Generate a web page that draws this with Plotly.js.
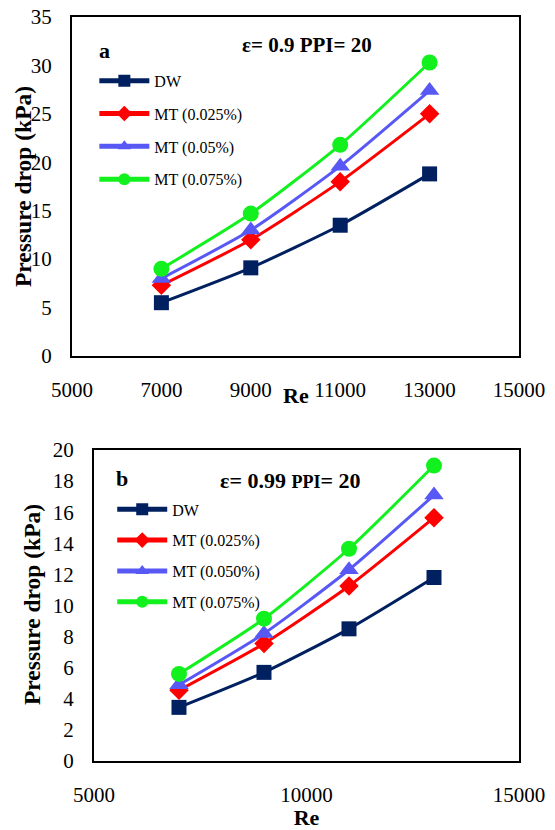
<!DOCTYPE html>
<html>
<head>
<meta charset="utf-8">
<script src="https://cdn.plot.ly/plotly-3.0.1.min.js"></script>
<style>html,body{margin:0;padding:0;background:#fff;}#chart{width:555px;height:830px;}</style>
</head>
<body>
<div id="chart"></div>
<script>
// ---- data ----
var reA = [7000, 9000, 11000, 13000];
var dwA = [5.5, 9.1, 13.5, 18.8];
var mt025A = [7.3, 12.0, 18.0, 25.0];
var mt05A = [8.0, 13.0, 19.6, 27.4];
var mt075A = [9.0, 14.7, 21.8, 30.3];

var reB = [7000, 9000, 11000, 13000];
var dwB = [3.45, 5.7, 8.5, 11.8];
var mt025B = [4.55, 7.55, 11.25, 15.65];
var mt05B = [4.9, 8.2, 12.3, 17.1];
var mt075B = [5.6, 9.15, 13.65, 19.0];

var namesA = ['DW', 'MT (0.025%)', 'MT (0.05%)', 'MT (0.075%)'];
var namesB = ['DW', 'MT (0.025%)', 'MT (0.050%)', 'MT (0.075%)'];
var xTicksA = [5000, 7000, 9000, 11000, 13000, 15000];
var xTicksB = [5000, 10000, 15000];

var colors = ['#002060', '#FF0000', '#5858F5', '#12F01E'];
var symbols = ['square', 'diamond', 'triangle-up', 'circle'];
var sizes = [15, 15, 17, 16];

var serif = '"Liberation Serif", "Times New Roman", serif';

function mk(x, y, i, names, xa, ya, leg) {
  return {
    x: x, y: y, name: names[i], type: 'scatter', mode: 'lines+markers',
    xaxis: xa, yaxis: ya, legend: leg, legendgroup: leg + i,
    line: {color: colors[i], width: 3, shape: 'spline', smoothing: 0.6},
    marker: {color: colors[i], symbol: symbols[i], size: sizes[i]}
  };
}

var seriesA = [dwA, mt025A, mt05A, mt075A];
var seriesB = [dwB, mt025B, mt05B, mt075B];
var data = [];
for (var i = 0; i < 4; i++) data.push(mk(reA, seriesA[i], i, namesA, 'x', 'y', 'legend'));
for (var j = 0; j < 4; j++) data.push(mk(reB, seriesB[j], j, namesB, 'x2', 'y2', 'legend2'));

var axBase = {
  showline: true, linecolor: '#000', linewidth: 2, mirror: true,
  showgrid: false, zeroline: false, ticks: '', ticklabelstandoff: 14,
  tickformat: 'd',
  tickfont: {family: serif, size: 21, color: '#000'}
};
function ax(extra) { var o = JSON.parse(JSON.stringify(axBase)); for (var k in extra) o[k] = extra[k]; return o; }

var legBase = {
  bgcolor: 'rgba(0,0,0,0)', borderwidth: 0, itemwidth: 50,
  font: {family: serif, size: 16, color: '#000'}, xanchor: 'left', yanchor: 'top',
  itemsizing: 'constant'
};
function leg(extra) { var o = JSON.parse(JSON.stringify(legBase)); for (var k in extra) o[k] = extra[k]; return o; }

var titleFont = {family: serif, size: 22, color: '#000'};
var yTitleFont = {family: serif, size: 23.5, color: '#000'};

var layout = {
  width: 555, height: 830,
  margin: {l: 72, r: 36, t: 17, b: 69},
  paper_bgcolor: '#fff', plot_bgcolor: '#fff',
  showlegend: true,
  xaxis: ax({domain: [0, 1], range: [5000, 15000], tickvals: xTicksA, anchor: 'y'}),
  yaxis: ax({domain: [0.5444, 1], range: [0, 35], dtick: 5, anchor: 'x'}),
  xaxis2: ax({domain: [0.0492, 1], range: [5000, 15000], tickvals: xTicksB, anchor: 'y2',
    title: {text: '<b>Re</b>', font: titleFont, standoff: 29}}),
  yaxis2: ax({domain: [0, 0.418], range: [0, 20], dtick: 2, anchor: 'x2'}),
  legend: leg({x: 0.05, y: 0.937, tracegroupgap: 9}),
  legend2: leg({x: 0.09, y: 0.361, tracegroupgap: 7}),
  annotations: [
    {text: '<b>Re</b>', xref: 'paper', yref: 'paper', x: 0.5, y: (761 - 395) / 744, xanchor: 'center', yanchor: 'middle', showarrow: false,
      font: titleFont},
    {text: '<b>Pressure drop (kPa)</b>', xref: 'paper', yref: 'paper', x: (23 - 72) / 447, y: (761 - 187) / 744, xanchor: 'center', yanchor: 'middle', textangle: -90, showarrow: false,
      font: yTitleFont},
    {text: '<b>Pressure drop (kPa)</b>', xref: 'paper', yref: 'paper', x: (32 - 72) / 447, y: (761 - 605) / 744, xanchor: 'center', yanchor: 'middle', textangle: -90, showarrow: false,
      font: yTitleFont},
    {text: '<b>a</b>', xref: 'paper', yref: 'paper', x: 0.055, y: 0.955, xanchor: 'left', yanchor: 'middle', showarrow: false,
      font: titleFont},
    {text: '<b>ε= 0.9 PPI= 20</b>', xref: 'paper', yref: 'paper', x: 0.525, y: 0.962, xanchor: 'center', yanchor: 'middle', showarrow: false,
      font: {family: serif, size: 21, color: '#000'}},
    {text: '<b>b</b>', xref: 'paper', yref: 'paper', x: 0.093, y: 0.38, xanchor: 'left', yanchor: 'middle', showarrow: false,
      font: titleFont},
    {text: '<b>ε= 0.99 <span style="font-size:18px">PPI</span>= 20</b>', xref: 'paper', yref: 'paper', x: 0.487, y: 0.377, xanchor: 'center', yanchor: 'middle', showarrow: false,
      font: {family: serif, size: 22, color: '#000'}}
  ]
};

Plotly.newPlot('chart', data, layout, {staticPlot: true, displayModeBar: false});
</script>
</body>
</html>
